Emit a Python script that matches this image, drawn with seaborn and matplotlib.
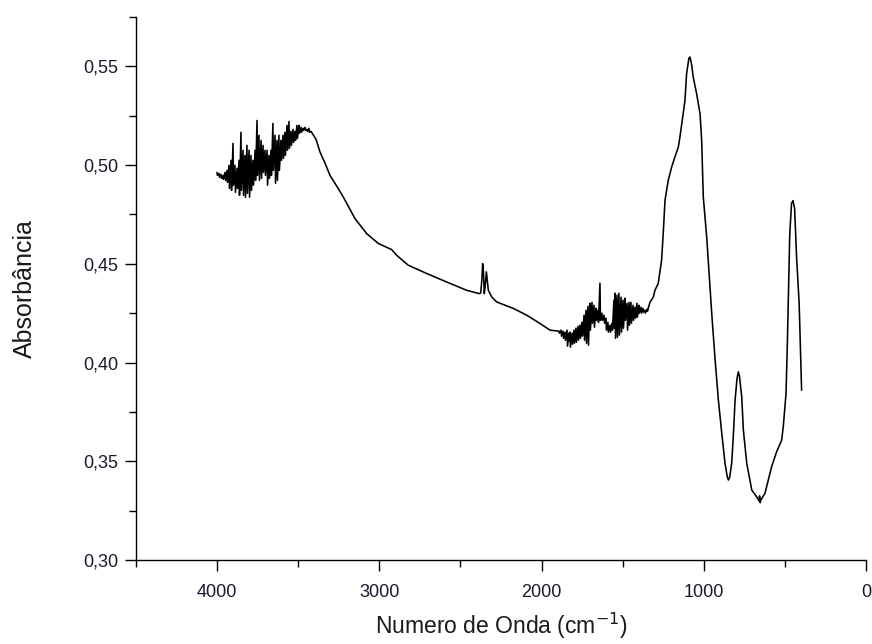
import numpy as np
import pandas as pd
import matplotlib
matplotlib.use("Agg")
import matplotlib.pyplot as plt
from matplotlib.ticker import MultipleLocator, FuncFormatter
import seaborn as sns

# FTIR spectrum (wavenumber cm-1, absorbance)
wavenumber = [
    4001, 3998, 3988, 3985, 3976, 3973, 3964, 3961, 3951, 3948,
    3939, 3936, 3927, 3924, 3914, 3911, 3902, 3899, 3890, 3887,
    3877, 3874, 3865, 3862, 3853, 3850, 3840, 3837, 3828, 3825,
    3816, 3813, 3803, 3800, 3791, 3788, 3779, 3776, 3766, 3763,
    3754, 3751, 3742, 3739, 3729, 3726, 3717, 3714, 3705, 3702,
    3692, 3689, 3680, 3677, 3668, 3665, 3656, 3653, 3643, 3640,
    3631, 3628, 3619, 3616, 3606, 3603, 3594, 3591, 3582, 3579,
    3569, 3566, 3557, 3554, 3545, 3542, 3532, 3529, 3520, 3517,
    3508, 3505, 3495, 3492, 3483, 3480, 3471, 3468, 3458, 3455,
    3446, 3443, 3434, 3431, 3421,
    3390, 3366, 3335, 3304, 3260, 3222, 3150, 3078, 3006, 2924,
    2893, 2822, 2708, 2585, 2462, 2384, 2375, 2368, 2363, 2358,
    2353, 2346, 2340, 2335, 2328, 2307, 2277, 2174, 2092, 2010,
    1948,
    1893, 1890, 1880, 1877, 1868, 1865, 1856, 1853, 1843, 1840,
    1831, 1828, 1825, 1822, 1812, 1809, 1800, 1797, 1788, 1785,
    1775, 1772, 1763, 1760, 1751, 1748, 1738, 1735, 1726, 1723,
    1714, 1711, 1702, 1699, 1689, 1686, 1677, 1674, 1665, 1662,
    1652, 1649, 1640, 1637, 1628, 1625, 1615, 1612, 1603, 1600,
    1591, 1588, 1578, 1575, 1566, 1563, 1554, 1551, 1547, 1544,
    1535, 1532, 1523, 1520, 1510, 1507, 1498, 1495, 1486, 1483,
    1473, 1470, 1461, 1458, 1449, 1446, 1436, 1433, 1424, 1421,
    1412, 1409, 1400, 1397, 1387, 1384, 1375, 1372, 1363, 1360,
    1350, 1347,
    1332, 1311, 1301, 1281, 1260, 1250, 1239, 1219, 1198, 1178,
    1157, 1147, 1130, 1116, 1106, 1092, 1085, 1075, 1065, 1044,
    1023, 1013, 1003, 982, 962, 951, 930, 910, 889, 869,
    855, 848, 840, 828, 817, 807, 795, 787, 780, 766,
    756, 735, 704, 674, 660, 656, 652, 648, 623, 602,
    582, 551, 520, 510, 493, 485, 479, 470, 459, 450,
    440, 428, 412, 397,
]

absorbance = [
    0.4963, 0.4948, 0.4958, 0.4938, 0.4953, 0.4933, 0.4948, 0.4928, 0.4963, 0.4923,
    0.4973, 0.4913, 0.4999, 0.4882, 0.5024, 0.4872, 0.5110, 0.4898, 0.4999, 0.4862,
    0.4984, 0.4882, 0.5024, 0.4847, 0.5166, 0.4872, 0.5075, 0.4847, 0.5049, 0.4837,
    0.5100, 0.4857, 0.5075, 0.4837, 0.5049, 0.4872, 0.5024, 0.4898, 0.5075, 0.4923,
    0.5226, 0.4948, 0.5151, 0.4923, 0.5125, 0.4933, 0.5100, 0.4963, 0.5075, 0.4948,
    0.5075, 0.4898, 0.5049, 0.4933, 0.5075, 0.4948, 0.5211, 0.4973, 0.5151, 0.4908,
    0.5125, 0.4923, 0.5151, 0.4973, 0.5125, 0.5024, 0.5151, 0.5034, 0.5166, 0.5049,
    0.5201, 0.5075, 0.5221, 0.5085, 0.5171, 0.5100, 0.5181, 0.5115, 0.5171, 0.5125,
    0.5201, 0.5135, 0.5201, 0.5161, 0.5191, 0.5166, 0.5186, 0.5176, 0.5191, 0.5176,
    0.5181, 0.5171, 0.5186, 0.5166, 0.5171,
    0.5130, 0.5067, 0.5010, 0.4948, 0.4890, 0.4838, 0.4729, 0.4653, 0.4603, 0.4572,
    0.4543, 0.4493, 0.4451, 0.4408, 0.4366, 0.4349, 0.4352, 0.4420, 0.4501, 0.4460,
    0.4349, 0.4400, 0.4459, 0.4420, 0.4366, 0.4332, 0.4307, 0.4274, 0.4240, 0.4198,
    0.4164,
    0.4159, 0.4149, 0.4164, 0.4134, 0.4159, 0.4123, 0.4154, 0.4113, 0.4164, 0.4083,
    0.4149, 0.4108, 0.4154, 0.4078, 0.4149, 0.4093, 0.4164, 0.4098, 0.4174, 0.4103,
    0.4184, 0.4113, 0.4189, 0.4123, 0.4204, 0.4134, 0.4240, 0.4113, 0.4265, 0.4098,
    0.4285, 0.4088, 0.4300, 0.4164, 0.4305, 0.4199, 0.4290, 0.4179, 0.4275, 0.4214,
    0.4265, 0.4204, 0.4402, 0.4214, 0.4250, 0.4214, 0.4240, 0.4199, 0.4225, 0.4164,
    0.4204, 0.4154, 0.4189, 0.4154, 0.4199, 0.4164, 0.4316, 0.4174, 0.4351, 0.4123,
    0.4341, 0.4128, 0.4351, 0.4139, 0.4331, 0.4154, 0.4316, 0.4174, 0.4326, 0.4214,
    0.4300, 0.4164, 0.4305, 0.4189, 0.4305, 0.4199, 0.4290, 0.4214, 0.4280, 0.4225,
    0.4300, 0.4230, 0.4290, 0.4250, 0.4280, 0.4250, 0.4275, 0.4255, 0.4265, 0.4250,
    0.4270, 0.4260,
    0.4305, 0.4332, 0.4366, 0.4400, 0.4518, 0.4653, 0.4822, 0.4923, 0.4990, 0.5041,
    0.5091, 0.5142, 0.5243, 0.5327, 0.5462, 0.5540, 0.5547, 0.5510, 0.5445, 0.5361,
    0.5260, 0.5125, 0.4838, 0.4636, 0.4383, 0.4249, 0.4012, 0.3810, 0.3641, 0.3489,
    0.3420, 0.3405, 0.3420, 0.3489, 0.3641, 0.3810, 0.3920, 0.3953, 0.3930, 0.3826,
    0.3658, 0.3489, 0.3354, 0.3320, 0.3300, 0.3325, 0.3290, 0.3305, 0.3337, 0.3405,
    0.3472, 0.3548, 0.3607, 0.3675, 0.3843, 0.4088, 0.4316, 0.4650, 0.4806, 0.4820,
    0.4780, 0.4535, 0.4299, 0.3860,
]

x_ticks = [4000, 3000, 2000, 1000, 0]
y_ticks = [0.30, 0.35, 0.40, 0.45, 0.50, 0.55]

df = pd.DataFrame({"wn": wavenumber, "abs": absorbance})

sns.set_theme(style="ticks")
plt.rcParams["font.family"] = ["Liberation Sans", "DejaVu Sans"]

fig = plt.figure(figsize=(8.72, 6.44), dpi=100)
ax = fig.add_axes([136 / 872, 84 / 644, 730 / 872, (560 - 17) / 644])

sns.lineplot(data=df, x="wn", y="abs", ax=ax, sort=False, estimator=None,
             color="black", linewidth=1.15)

ax.set_xlim(4500, 0)
ax.set_ylim(0.30, 0.575)
ax.set_xticks(x_ticks)
ax.set_yticks(y_ticks)
ax.xaxis.set_minor_locator(MultipleLocator(500))
ax.yaxis.set_minor_locator(MultipleLocator(0.025))
ax.yaxis.set_major_formatter(FuncFormatter(lambda v, p: f"{v:.2f}".replace(".", ",")))
ax.xaxis.set_major_formatter(FuncFormatter(lambda v, p: f"{int(round(v))}"))

for s in ["top", "right"]:
    ax.spines[s].set_visible(False)
for s in ["left", "bottom"]:
    ax.spines[s].set_color("black")
    ax.spines[s].set_linewidth(1.0)

ax.tick_params(axis="both", which="major", direction="out", length=8, width=1.0,
               color="black", labelsize=13, labelcolor="#1a1a2e")
ax.tick_params(axis="x", which="major", pad=9)
ax.tick_params(axis="y", which="major", pad=5)
ax.tick_params(axis="both", which="minor", direction="out", length=5, width=1.0,
               color="black")

ax.set_xlabel("Numero de Onda (cm$^{-1}$)", fontsize=16.5, color="#1a1a1a", labelpad=7)
ax.set_ylabel("Absorbância", fontsize=18, color="#1a1a1a", labelpad=33)
ax.grid(False)

fig.savefig("out.png", dpi=100)
